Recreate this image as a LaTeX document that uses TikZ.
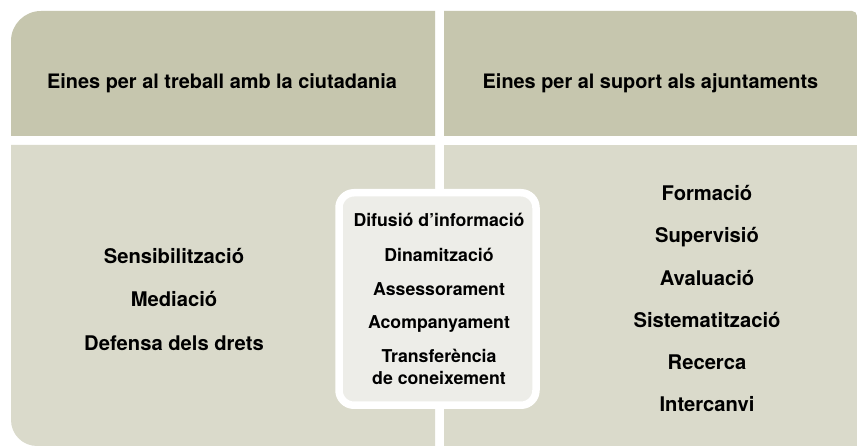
\documentclass[tikz,border=0pt]{standalone}
\usepackage{fontspec}
\setmainfont{TeX Gyre Heros}
\definecolor{hdr}{HTML}{C6C6AE}
\definecolor{low}{HTML}{DADACB}
\definecolor{mid}{HTML}{EDEDE8}
\begin{document}
\begin{tikzpicture}[x=1pt,y=1pt,
  hdrtxt/.style={anchor=base, inner sep=0pt, font=\bfseries\fontsize{19.9}{24}\selectfont},
  itemtxt/.style={anchor=base, inner sep=0pt, font=\bfseries\fontsize{20.2}{24}\selectfont},
  midtxt/.style={anchor=base, inner sep=0pt, font=\bfseries\fontsize{17.7}{22}\selectfont}]
\useasboundingbox[fill=white] (0,0) rectangle (857,446);
% header panels
\fill[hdr] (11,310) -- (11,405) arc[start angle=180, end angle=90, radius=30] -- (435,435) -- (435,310) -- cycle;
\fill[hdr] (444,310) -- (444,435) -- (852,435) arc[start angle=90, end angle=0, radius=5] -- (857,310) -- cycle;
% lower panels
\fill[low] (11,301) -- (11,26) arc[start angle=180, end angle=270, radius=26] -- (435,0) -- (435,301) -- cycle;
\fill[low] (444,0) rectangle (857,301);
% central box
\node[draw=white, line width=7.5pt, fill=mid, rounded corners=15pt, minimum width=197pt, minimum height=212.5pt, inner sep=0pt] (box) at (437.5,147) {};
% headers
\node[hdrtxt] (h1) at (222,357) {Eines per al treball amb la ciutadania};
\node[hdrtxt] (h2) at (650.5,357) {Eines per al suport als ajuntaments};
% left items
\node[itemtxt] (l1) at (174,182) {Sensibilització};
\node[itemtxt] (l2) at (174,139) {Mediació};
\node[itemtxt] (l3) at (174,95) {Defensa dels drets};
% middle items
\node[midtxt] (m1) at (439,219) {Difusió d’informació};
\node[midtxt] (m2) at (439,184) {Dinamització};
\node[midtxt] (m3) at (439,150) {Assessorament};
\node[midtxt] (m4) at (439,117) {Acompanyament};
\node[midtxt] (m5) at (439,83) {Transferència};
\node[midtxt] (m5b) at (439,61) {de coneixement};
% right items
\node[itemtxt] (r1) at (707,245) {Formació};
\node[itemtxt] (r2) at (707,203) {Supervisió};
\node[itemtxt] (r3) at (707,160.6) {Avaluació};
\node[itemtxt] (r4) at (707,118.4) {Sistematització};
\node[itemtxt] (r5) at (707,76.2) {Recerca};
\node[itemtxt] (r6) at (707,34) {Intercanvi};
\end{tikzpicture}
\end{document}
